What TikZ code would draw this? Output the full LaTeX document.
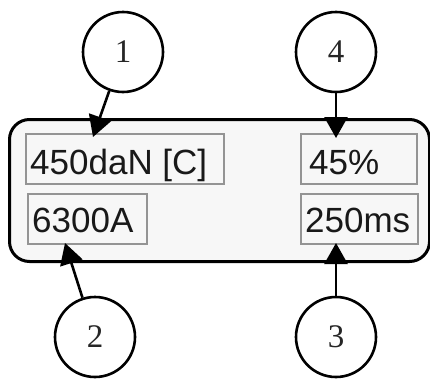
\documentclass[tikz,border=0pt]{standalone}
\usepackage{fontspec}
\setmainfont{Liberation Sans}
\newfontfamily\numfont{Liberation Serif}
\usetikzlibrary{arrows.meta}
\begin{document}
\begin{tikzpicture}[x=1pt,y=-1pt,
  callout/.style={circle,draw,line width=2.6pt,minimum size=80pt,inner sep=0pt,font=\numfont\fontsize{33}{33}\selectfont,text=black!85},
  valbox/.style={rectangle,draw=black!42,line width=2.2pt,inner sep=0pt,anchor=north west},
  valtxt/.style={inner sep=0pt,anchor=base west,font=\fontsize{35}{35}\selectfont,text=black!90},
  pointer/.style={line width=2.6pt,-{Triangle[length=21pt,width=23pt]}}]
\useasboundingbox (0,0) rectangle (430,383);
\node[rectangle,draw,line width=3pt,fill=black!3,rounded corners=20pt,minimum width=420pt,minimum height=142pt,anchor=north west,inner sep=0pt] (panel) at (8,118) {};
\node[valbox,minimum width=198pt,minimum height=50pt] (b1) at (25,133) {};
\node[valbox,minimum width=116pt,minimum height=50pt] (b4) at (300,133) {};
\node[valbox,minimum width=119pt,minimum height=50pt] (b2) at (27,193) {};
\node[valbox,minimum width=117pt,minimum height=50pt] (b3) at (300,193) {};
\node[valtxt] (t1txt) at (30,174) {450daN [C]};
\node[valtxt] (t4txt) at (309,174) {45\%};
\node[valtxt] (t2txt) at (32,232) {6300A};
\node[valtxt] (t3txt) at (305,232) {250ms};
\node[callout] (c1) at (123,52) {1};
\node[callout] (c4) at (336,52) {4};
\node[callout] (c2) at (95,337) {2};
\node[callout] (c3) at (336,337) {3};
\coordinate (p1) at (93,137);
\coordinate (p4) at (336,138);
\coordinate (p2) at (65,243);
\coordinate (p3) at (336,243);
\draw[pointer] (c1) -- (p1);
\draw[pointer] (c4) -- (p4);
\draw[pointer] (c2) -- (p2);
\draw[pointer] (c3) -- (p3);
\end{tikzpicture}
\end{document}
